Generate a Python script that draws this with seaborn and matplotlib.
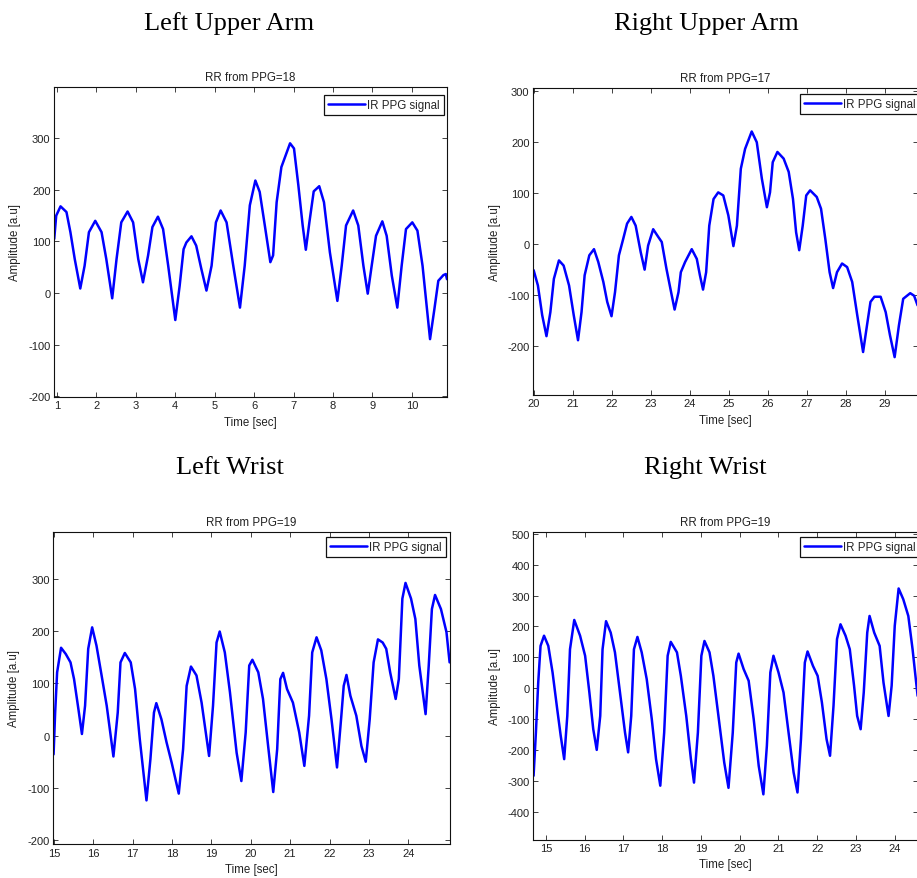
import matplotlib
matplotlib.use("Agg")
import matplotlib.pyplot as plt
import pandas as pd
import seaborn as sns

# ---------------- data ----------------
lua_t = [0.93, 0.98, 1.09, 1.24, 1.34, 1.45, 1.59, 1.70, 1.81, 1.97, 2.13, 2.25, 2.40, 2.51, 2.63,
         2.79, 2.93, 3.06, 3.18, 3.31, 3.42, 3.56, 3.69, 3.82, 4.00, 4.11, 4.21, 4.28, 4.41, 4.53,
         4.66, 4.79, 4.92, 5.03, 5.15, 5.30, 5.47, 5.64, 5.76, 5.89, 6.03, 6.14, 6.27, 6.41, 6.48,
         6.57, 6.69, 6.80, 6.91, 7.01, 7.12, 7.23, 7.31, 7.40, 7.51, 7.65, 7.77, 7.92, 8.11, 8.22,
         8.33, 8.51, 8.64, 8.77, 8.88, 8.98, 9.09, 9.25, 9.36, 9.49, 9.63, 9.74, 9.85, 10.01, 10.14,
         10.27, 10.46, 10.57, 10.67, 10.80, 10.86, 10.89]
lua_v = [105, 150, 168, 157, 118, 66, 9, 53, 118, 140, 118, 66, -10, 66, 137,
         158, 137, 66, 21, 73, 128, 148, 124, 53, -52, 14, 85, 98, 110, 92,
         47, 5, 53, 137, 160, 137, 53, -28, 53, 170, 218, 196, 131, 60, 73,
         176, 244, 267, 290, 280, 209, 131, 84, 137, 197, 207, 176, 79, -15, 53,
         131, 160, 131, 53, -1, 53, 111, 139, 111, 34, -28, 53, 124, 137, 121,
         53, -89, -31, 24, 35, 37, 27]

rua_t = [19.99, 20.10, 20.21, 20.32, 20.42, 20.51, 20.64, 20.76, 20.90, 21.02, 21.13, 21.22, 21.30,
         21.42, 21.54, 21.65, 21.78, 21.88, 21.99, 22.08, 22.18, 22.29, 22.39, 22.50, 22.61, 22.74,
         22.84, 22.93, 23.06, 23.19, 23.28, 23.40, 23.52, 23.61, 23.71, 23.77, 23.88, 24.05, 24.18,
         24.26, 24.34, 24.42, 24.50, 24.61, 24.73, 24.86, 24.99, 25.12, 25.21, 25.31, 25.42, 25.59,
         25.72, 25.85, 25.98, 26.06, 26.13, 26.25, 26.41, 26.54, 26.65, 26.73, 26.81, 26.90, 26.99,
         27.09, 27.26, 27.37, 27.48, 27.59, 27.68, 27.78, 27.91, 28.04, 28.17, 28.30, 28.45, 28.55,
         28.64, 28.74, 28.90, 29.03, 29.14, 29.26, 29.37, 29.48, 29.66, 29.76, 29.85]
rua_v = [-51, -81, -139, -180, -133, -68, -32, -42, -81, -139, -188, -133, -61,
         -22, -10, -35, -74, -113, -141, -94, -22, 10, 40, 53, 36, -16,
         -50, -3, 29, 14, 4, -48, -94, -128, -94, -55, -35, -10, -29,
         -61, -89, -55, 36, 88, 101, 95, 56, -4, 36, 147, 186, 220,
         199, 128, 72, 101, 160, 180, 167, 141, 88, 23, -12, 36, 95,
         105, 92, 69, 10, -55, -86, -55, -38, -45, -74, -139, -211, -159,
         -113, -103, -103, -133, -178, -221, -159, -107, -96, -101, -120]

lw_t = [14.99, 15.03, 15.08, 15.18, 15.30, 15.42, 15.51, 15.62, 15.71, 15.79, 15.87, 15.97, 16.08,
        16.21, 16.34, 16.51, 16.62, 16.69, 16.80, 16.95, 17.06, 17.18, 17.35, 17.45, 17.54, 17.60,
        17.73, 17.86, 17.99, 18.17, 18.28, 18.37, 18.48, 18.62, 18.75, 18.94, 19.04, 19.13, 19.21,
        19.34, 19.47, 19.64, 19.76, 19.87, 19.96, 20.04, 20.19, 20.31, 20.44, 20.57, 20.67, 20.75,
        20.82, 20.92, 21.07, 21.23, 21.36, 21.48, 21.56, 21.67, 21.79, 21.92, 22.05, 22.19, 22.30,
        22.36, 22.43, 22.53, 22.68, 22.81, 22.92, 23.02, 23.12, 23.23, 23.35, 23.44, 23.54, 23.68,
        23.76, 23.85, 23.93, 24.07, 24.18, 24.28, 24.44, 24.52, 24.60, 24.68, 24.83, 24.97, 25.05]
lw_v = [-36, 44, 121, 168, 156, 140, 108, 51, 3, 57, 166, 207, 172,
        115, 57, -40, 44, 140, 158, 140, 89, -7, -124, -45, 44, 62,
        31, -13, -52, -111, -26, 95, 132, 115, 63, -39, 57, 178, 199,
        159, 83, -33, -87, 6, 134, 145, 121, 70, -20, -108, -26, 108,
        120, 89, 63, 6, -58, 38, 159, 188, 163, 108, 31, -61, 38,
        95, 116, 76, 38, -20, -50, 31, 140, 184, 178, 166, 121, 70,
        108, 262, 292, 262, 223, 134, 41, 134, 242, 269, 242, 198, 140]

rw_t = [14.68, 14.74, 14.80, 14.86, 14.95, 15.06, 15.17, 15.29, 15.38, 15.47, 15.55, 15.62, 15.73,
        15.88, 16.01, 16.12, 16.22, 16.31, 16.40, 16.46, 16.55, 16.67, 16.78, 16.91, 17.04, 17.12,
        17.20, 17.27, 17.36, 17.47, 17.60, 17.73, 17.84, 17.95, 18.05, 18.14, 18.22, 18.38, 18.48,
        18.62, 18.74, 18.82, 18.92, 19.01, 19.09, 19.22, 19.32, 19.45, 19.60, 19.71, 19.82, 19.91,
        19.97, 20.10, 20.23, 20.36, 20.49, 20.61, 20.70, 20.79, 20.87, 21.00, 21.13, 21.26, 21.39,
        21.49, 21.58, 21.68, 21.75, 21.89, 22.01, 22.12, 22.24, 22.33, 22.42, 22.51, 22.60, 22.73,
        22.84, 22.95, 23.03, 23.12, 23.20, 23.29, 23.35, 23.47, 23.61, 23.71, 23.84, 23.92, 24.00,
        24.10, 24.22, 24.35, 24.46, 24.59]
rw_v = [-284, -144, 18, 137, 170, 137, 51, -68, -154, -230, -90, 126, 221,
        170, 105, -14, -133, -200, -90, 126, 217, 180, 116, -14, -144, -208,
        -90, 126, 166, 116, 29, -100, -230, -316, -144, 105, 150, 116, 40,
        -90, -230, -306, -144, 105, 153, 116, 40, -90, -241, -323, -144, 83,
        112, 62, 24, -100, -252, -344, -187, 51, 105, 51, -14, -144, -273,
        -338, -165, 83, 119, 72, 40, -46, -165, -219, -57, 159, 207, 170,
        126, 8, -90, -133, -14, 180, 234, 180, 137, 18, -90, 8, 202,
        323, 288, 234, 126, -25]

headings = ["Left Upper Arm", "Right Upper Arm", "Left Wrist", "Right Wrist"]
subtitles = ["RR from PPG=18", "RR from PPG=17", "RR from PPG=19", "RR from PPG=19"]
xticks_list = [list(range(1, 11)), list(range(20, 30)), list(range(15, 25)), list(range(15, 25))]
yticks_list = [list(range(-200, 301, 100)), list(range(-200, 301, 100)),
               list(range(-200, 301, 100)), list(range(-400, 501, 100))]
legend_label = "IR PPG signal"
x_label = "Time [sec]"
y_label = "Amplitude [a.u]"

# ---------------- style ----------------
sns.set_style("ticks")
plt.rcParams["font.family"] = ["Liberation Sans", "DejaVu Sans"]
plt.rcParams["axes.unicode_minus"] = False

W, H = 917, 879
fig = plt.figure(figsize=(W / 100, H / 100), dpi=100)


def rect(l, r, t, b):
    return [l / W, 1 - b / H, (r - l) / W, (b - t) / H]


panels = [
    dict(t=lua_t, v=lua_v, rect=rect(54, 447, 88, 398), xlim=(0.924, 10.89), ylim=(-201, 399),
         leg=(0.992, 0.975), head=(229.5, 24)),
    dict(t=rua_t, v=rua_v, rect=rect(533, 918, 89, 396), xlim=(19.974, 29.86), ylim=(-295, 305),
         leg=(1.004, 0.980), head=(706, 24)),
    dict(t=lw_t, v=lw_v, rect=rect(53.3, 450, 532.7, 845.3), xlim=(14.983, 25.06), ylim=(-208, 390),
         leg=(0.989, 0.982), head=(230, 468)),
    dict(t=rw_t, v=rw_v, rect=rect(533.3, 918, 532.7, 840.7), xlim=(14.673, 24.6), ylim=(-491, 507),
         leg=(1.004, 0.982), head=(705.5, 468)),
]

for i, p in enumerate(panels):
    ax = fig.add_axes(p["rect"])
    df = pd.DataFrame({"Time": p["t"], "Amplitude": p["v"]})
    sns.lineplot(data=df, x="Time", y="Amplitude", ax=ax, color="#0000ff", linewidth=1.8,
                 estimator=None, sort=False, label=legend_label,
                 solid_joinstyle="round", solid_capstyle="round")
    ax.set_xlim(*p["xlim"])
    ax.set_ylim(*p["ylim"])
    ax.set_xticks(xticks_list[i])
    ax.set_yticks(yticks_list[i])
    ax.tick_params(direction="in", top=True, right=True, length=3.5, width=0.6,
                   labelsize=8, pad=2.5, colors="#222222")
    for s in ax.spines.values():
        s.set_linewidth(0.8)
        s.set_color("#111111")
    ax.set_title(subtitles[i], fontsize=8.3, pad=5, color="#222222")
    ax.set_xlabel(x_label, fontsize=8.3, color="#222222")
    ax.set_ylabel(y_label, fontsize=8.3, color="#222222")
    ax.yaxis.set_label_coords(-0.084, 0.5)
    ax.xaxis.set_label_coords(0.5, -0.061)
    leg = ax.legend(loc="upper right", bbox_to_anchor=p["leg"], borderaxespad=0,
                    fontsize=8.3, frameon=True, fancybox=False, framealpha=1,
                    edgecolor="#111111", handlelength=3.2, handletextpad=0.2,
                    borderpad=0.35)
    leg.get_frame().set_linewidth(0.9)
    hx, hy = p["head"]
    fig.text(hx / W, 1 - hy / H, headings[i], ha="center", va="center",
             family="Liberation Serif", fontsize=19, color="black")

fig.savefig("out.png", dpi=100)
